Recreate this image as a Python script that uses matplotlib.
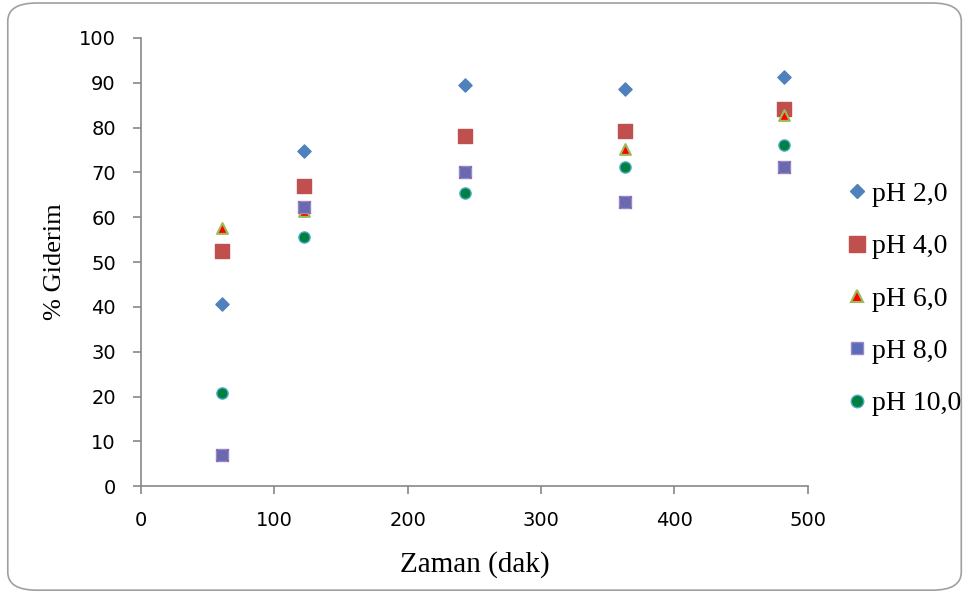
import matplotlib
matplotlib.use("Agg")
import matplotlib.pyplot as plt
from matplotlib.patches import FancyBboxPatch
from matplotlib.lines import Line2D

time = [61, 122, 243, 363, 482]
ph2 = [40.6, 74.8, 89.4, 88.5, 91.3]
ph4 = [52.5, 67.0, 78.1, 79.2, 84.2]
ph6 = [57.6, 61.3, 70.0, 75.3, 82.9]
ph8 = [6.9, 62.2, 70.0, 63.3, 71.1]
ph10 = [20.8, 55.6, 65.4, 71.1, 76.1]
labels = ["pH 2,0", "pH 4,0", "pH 6,0", "pH 8,0", "pH 10,0"]

fig = plt.figure(figsize=(9.71, 6.01), dpi=100)
fig.patches.append(FancyBboxPatch((0.008, 0.018), 0.982, 0.977, boxstyle="round,pad=0,rounding_size=0.03",
                                  transform=fig.transFigure, fill=False, edgecolor="#a0a0a0", linewidth=1.2))
ax = fig.add_axes([0.145, 0.191, 0.687, 0.746])

ax.scatter(time, ph2, marker="D", s=45, color="#4F81BD", zorder=3)
ax.scatter(time, ph4, marker="s", s=95, color="#C0504D", zorder=3)
ax.scatter(time, ph6, marker="^", s=60, facecolor="#FF0000", edgecolor="#9BBB59", linewidths=1.5, zorder=4)
ax.scatter(time, ph8, marker="s", s=75, facecolor="#5B6CB8", edgecolor="#9A86C8", linewidths=1, zorder=5)
ax.scatter(time, ph8, marker="x", s=75, color="#8064A2", linewidths=1.2, zorder=6)
ax.scatter(time, ph10, marker="o", s=65, facecolor="#008040", edgecolor="#4BACC6", linewidths=1, zorder=3)

ax.set_xlim(0, 500)
ax.set_ylim(0, 100)
ax.set_xticks(range(0, 501, 100))
ax.set_yticks(range(0, 101, 10))
for s in ["top", "right"]:
    ax.spines[s].set_visible(False)
for s in ["left", "bottom"]:
    ax.spines[s].set_color("#888888")
    ax.spines[s].set_linewidth(1.2)
ax.tick_params(direction="out", length=6, width=1.2, color="#888888", labelsize=14, pad=12)
for lab in ax.get_xticklabels() + ax.get_yticklabels():
    lab.set_fontfamily("DejaVu Sans")
ax.set_xlabel("Zaman (dak)", fontfamily="Liberation Serif", fontsize=21, labelpad=15)
ax.set_ylabel("% Giderim", fontfamily="Liberation Serif", fontsize=19, labelpad=9)

handles = [
    Line2D([], [], ls="none", marker="D", markersize=7, color="#4F81BD"),
    Line2D([], [], ls="none", marker="s", markersize=11, color="#C0504D"),
    Line2D([], [], ls="none", marker="^", markersize=8, markerfacecolor="#FF0000", markeredgecolor="#9BBB59", markeredgewidth=1.5),
    Line2D([], [], ls="none", marker="s", markersize=9, markerfacecolor="#5B6CB8", markeredgecolor="#9A86C8"),
    Line2D([], [], ls="none", marker="o", markersize=9, markerfacecolor="#008040", markeredgecolor="#4BACC6"),
]
fig.legend(handles, labels, loc="center left", bbox_to_anchor=(0.871, 0.5025), frameon=False,
           prop={"family": "Liberation Serif", "size": 20}, labelspacing=0.97, handletextpad=0.15,
           handlelength=0.8, borderpad=0, borderaxespad=0)

fig.savefig("out.png", dpi=100)
